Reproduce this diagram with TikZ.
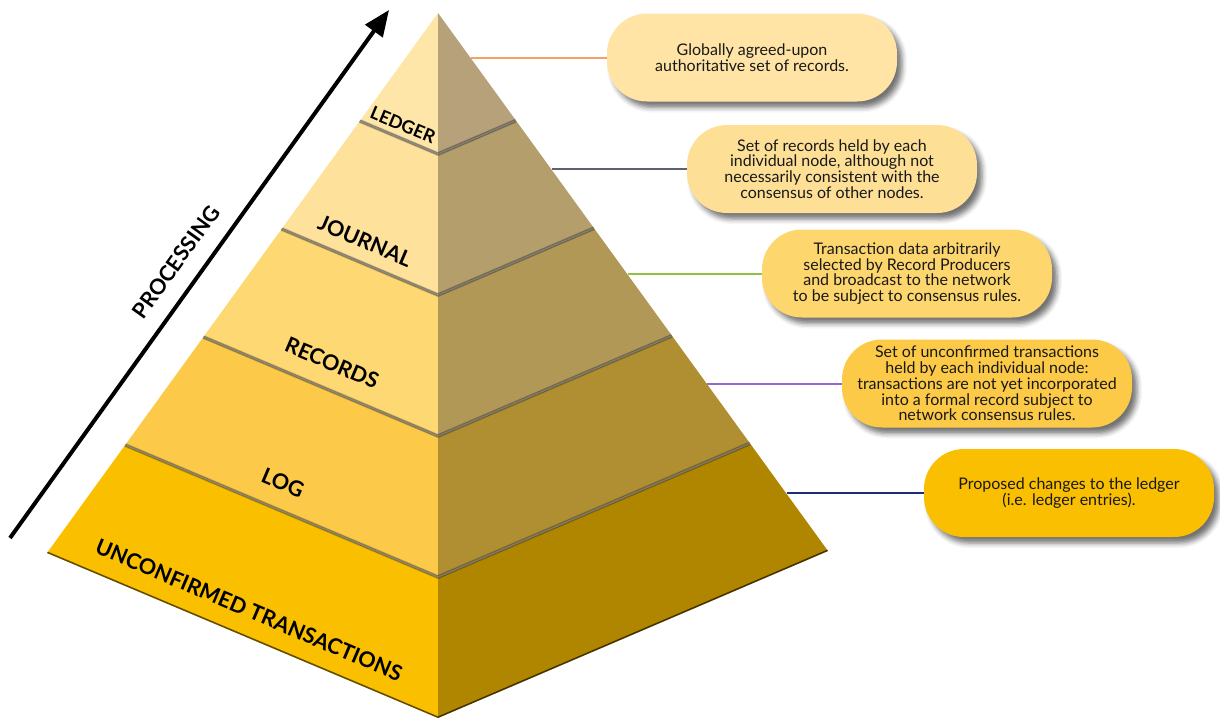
\documentclass[tikz,border=0pt]{standalone}
\usepackage{fontspec}
\setmainfont{Lato}
\usetikzlibrary{arrows.meta,shadows.blur,calc,backgrounds}

% face colours, top band (1) to bottom band (5)
\definecolor{lf1}{RGB}{254,230,168}
\definecolor{lf2}{RGB}{254,225,155}
\definecolor{lf3}{RGB}{253,216,115}
\definecolor{lf4}{RGB}{252,202,72}
\definecolor{lf5}{RGB}{250,192,0}
\definecolor{rf1}{RGB}{183,161,122}
\definecolor{rf2}{RGB}{179,158,108}
\definecolor{rf3}{RGB}{178,152,86}
\definecolor{rf4}{RGB}{176,142,50}
\definecolor{rf5}{RGB}{176,134,0}
% box fills
\definecolor{bx1}{RGB}{255,228,166}
\definecolor{bx2}{RGB}{254,223,150}
\definecolor{bx3}{RGB}{253,214,110}
\definecolor{bx4}{RGB}{252,202,70}
\definecolor{bx5}{RGB}{249,191,0}
% connector colours
\definecolor{lineorange}{RGB}{245,160,100}
\definecolor{linegray}{RGB}{95,95,110}
\definecolor{linegreen}{RGB}{140,195,70}
\definecolor{linepurple}{RGB}{145,105,215}
\definecolor{linenavy}{RGB}{25,45,120}

\tikzset{
  infobox/.style={rounded corners=40pt, minimum width=290pt, minimum height=88pt,
    align=center, inner sep=0pt, text=black!90,
    font=\fontsize{16}{15.8}\selectfont,
    blur shadow={shadow xshift=5pt, shadow yshift=-6pt, shadow blur radius=5pt,
      shadow opacity=55}},
  layerlabel/.style={font=\bfseries\fontsize{21.5}{23}\selectfont, rotate=-23, inner sep=0pt},
  link/.style={line width=2pt},
  darkedge/.style={black, opacity=.6, line width=2.4pt},
  lightedge/.style={white, opacity=.35, line width=2pt},
}

\begin{document}
\begin{tikzpicture}[x=1pt,y=-1pt]
\useasboundingbox (0,0) rectangle (1220,718);

% pyramid corners
\coordinate (apex) at (438,13);
\coordinate (bl) at (47,553);
\coordinate (bf) at (438,718);
\coordinate (br) at (828,551);

% level points on the three edges
\foreach \i/\t in {0/0,1/0.2,2/0.4,3/0.6,4/0.8,5/1}{
  \coordinate (L\i) at ($(apex)!\t!(bl)$);
  \coordinate (C\i) at ($(apex)!\t!(bf)$);
  \coordinate (R\i) at ($(apex)!\t!(br)$);
}

% bands of the two visible faces
\foreach \i [evaluate=\i as \j using int(\i-1)] in {1,...,5}{
  \fill[lf\i] (L\j) -- (L\i) -- (C\i) -- (C\j) -- cycle;
  \fill[rf\i] (C\j) -- (C\i) -- (R\i) -- (R\j) -- cycle;
}

% bevelled seams between bands and along the base
\begin{scope}
  \clip (apex) -- (bl) -- (bf) -- (br) -- cycle;
  \foreach \i in {1,...,4}{
    \draw[black, opacity=.18, line width=4pt, yshift=1.5pt] (L\i) -- (C\i) -- (R\i);
    \draw[darkedge] (L\i) -- (C\i) -- (R\i);
    \draw[lightedge, yshift=-3pt] (L\i) -- (C\i) -- (R\i);
  }
  \draw[black, opacity=.5, line width=3pt] (bl) -- (bf) -- (br);
  \draw[black, opacity=.2, line width=3pt, yshift=2.5pt] (bl) -- (bf) -- (br);
\end{scope}

% layer names
\node[layerlabel, font=\bfseries\fontsize{18}{20}\selectfont] (ledger) at (403,125) {LEDGER};
\node[layerlabel] (journal) at (365,241) {JOURNAL};
\node[layerlabel] (records) at (332,363) {RECORDS};
\node[layerlabel] (log) at (283,483) {LOG};
\node[layerlabel] (unconf) at (249,610) {UNCONFIRMED TRANSACTIONS};

% processing arrow
\coordinate (pbot) at (10,538);
\coordinate (ptop) at (389,10);
\draw[line width=4pt, -{Triangle[length=26pt,width=21pt]}] (pbot) -- (ptop);
\node[font=\bfseries\fontsize{21.5}{23}\selectfont, rotate=54.3, inner sep=0pt] (proc) at (176,262) {PROCESSING};

% description boxes
\node[infobox, fill=bx1] (b1) at (752,57.5) {Globally agreed-upon\\authoritative set of records.};
\node[infobox, fill=bx2] (b2) at (832,169) {Set of records held by each\\individual node, although not\\necessarily consistent with the\\consensus of other nodes.};
\node[infobox, fill=bx3] (b3) at (907,273.5) {Transaction data arbitrarily\\selected by Record Producers\\and broadcast to the network\\to be subject to consensus rules.};
\node[infobox, fill=bx4] (b4) at (987,383.5) {Set of unconfirmed transactions\\held by each individual node:\\transactions are not yet incorporated\\into a formal record subject to\\network consensus rules.};
\node[infobox, fill=bx5] (b5) at (1069,493) {Proposed changes to the ledger\\(i.e. ledger entries).};

% anchor points on the right slope of the pyramid
\coordinate (e1) at (471,57.5);
\coordinate (e2) at (552,169);
\coordinate (e3) at (628,273.5);
\coordinate (e4) at (707,383.5);
\coordinate (e5) at (787,493);

% leader lines, kept beneath the boxes and their shadows
\begin{scope}[on background layer]
  \draw[link, lineorange] (e1) -- (b1.west);
  \draw[link, linegray] (e2) -- (b2.west);
  \draw[link, linegreen] (e3) -- (b3.west);
  \draw[link, linepurple] (e4) -- (b4.west);
  \draw[link, linenavy] (e5) -- (b5.west);
\end{scope}
\end{tikzpicture}
\end{document}
